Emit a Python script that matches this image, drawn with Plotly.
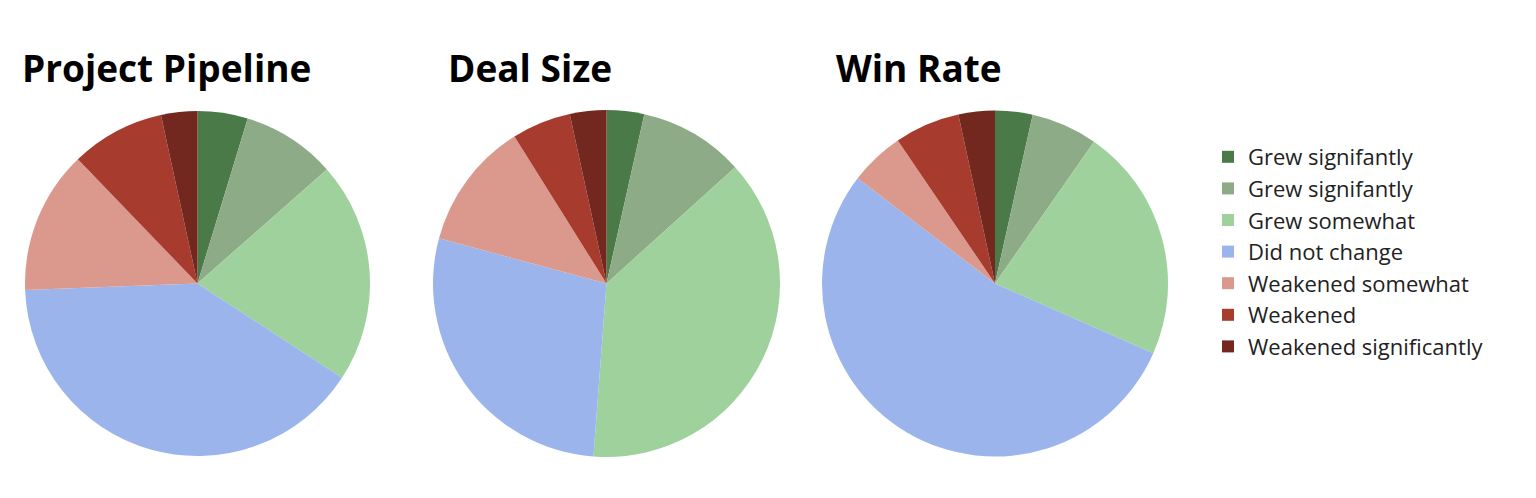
import plotly.graph_objects as go

labels = ["Grew signifantly", "Grew signifantly ", "Grew somewhat", "Did not change",
          "Weakened somewhat", "Weakened", "Weakened significantly"]
colors = ["#4a7a47", "#8eab88", "#9fd19c", "#9bb5ec", "#da998c", "#a73c2e", "#73281f"]
titles = ["Project Pipeline", "Deal Size", "Win Rate"]
pipeline = [4.7, 8.8, 20.7, 40.2, 13.4, 8.8, 3.4]
deal_size = [3.5, 9.8, 37.9, 28.0, 11.9, 5.5, 3.4]
win_rate = [3.5, 6.2, 21.9, 53.8, 5.1, 6.1, 3.4]

# legend labels padded with a tall invisible span to widen row spacing
legend_labels = [l + "<span style='font-size:31px'> </span>" for l in labels]

W, H = 1536, 498
domains = [(17, 362), (425, 772), (814, 1160)]
title_x = [12, 438, 826]
fig = go.Figure()
for i, vals in enumerate([pipeline, deal_size, win_rate]):
    x0, x1 = domains[i]
    fig.add_trace(go.Pie(
        labels=legend_labels, values=vals, sort=False, direction="clockwise", rotation=0,
        textinfo="none", customdata=labels, hovertemplate="%{customdata}: %{percent}<extra></extra>",
        marker=dict(colors=colors, line=dict(width=0)),
        domain=dict(x=[x0 / W, x1 / W], y=[1 - 449 / H, 1 - 102 / H]),
        showlegend=(i == 0)))
    fig.add_annotation(text="<b>%s</b>" % titles[i], x=title_x[i] / W, y=1 - 60 / H,
                       xref="paper", yref="paper", xanchor="left", yanchor="middle",
                       showarrow=False, font=dict(size=37, color="black", family="Open Sans"))

fig.update_layout(
    width=W, height=H, margin=dict(l=0, r=0, t=0, b=0),
    paper_bgcolor="white", plot_bgcolor="white",
    font=dict(family="Open Sans", color="#222"),
    legend=dict(x=1200 / W, y=1 - 128 / H, xanchor="left", yanchor="top",
                font=dict(size=22, color="#222"), tracegroupgap=0, itemwidth=30),
)
fig.write_html("out.html")
